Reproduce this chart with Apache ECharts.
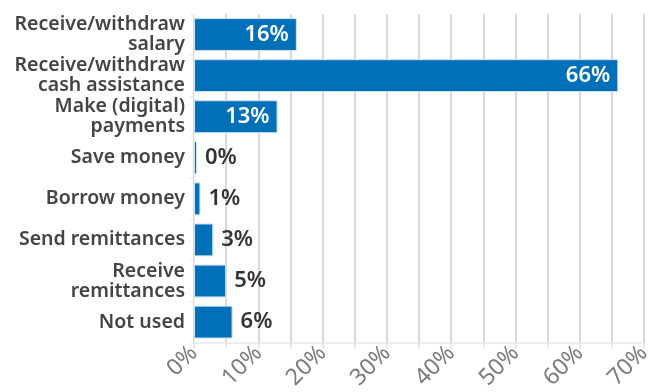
<!DOCTYPE html>
<html>
<head>
<meta charset="utf-8">
<script src="https://cdn.jsdelivr.net/npm/echarts@6/dist/echarts.min.js"></script>
<style>
  html, body { margin: 0; padding: 0; background: #fff; }
  #chart { width: 657px; height: 392px; }
</style>
</head>
<body>
<div id="chart"></div>
<script>
// Uses of the account, top to bottom
const categories = [
  'Receive/withdraw\nsalary',
  'Receive/withdraw\ncash assistance',
  'Make (digital)\npayments',
  'Save money',
  'Borrow money',
  'Send remittances',
  'Receive\nremittances',
  'Not used'
];
// Share of respondents, in percent
const shares = [16, 66, 13, 0, 1, 3, 5, 6];
// Value axis range and step
const axisMax = 70;
const axisStep = 5;
const labelStep = 10;

const barColor = '#0070b8';
const fontFamily = '"Noto Sans", "Open Sans", sans-serif';

// Wide bars carry their label inside in white; short ones get it outside
const seriesData = shares.map(v => ({
  value: v,
  label: v >= 10
    ? { position: 'insideRight', distance: 8, color: '#ffffff' }
    : { position: 'right', distance: 8, color: '#333333' }
}));

const chart = echarts.init(document.getElementById('chart'), null, { renderer: 'canvas' });
chart.setOption({
  animation: false,
  grid: { left: 194, right: 13, top: 14, bottom: 49, containLabel: false },
  xAxis: {
    type: 'value',
    min: 0,
    max: axisMax,
    interval: axisStep,
    axisLine: { show: true, lineStyle: { color: '#e8e8e8', width: 1.5 } },
    axisTick: { show: true, length: 6, lineStyle: { color: '#e0e0e0', width: 1.5 } },
    splitLine: { show: true, lineStyle: { color: '#cccccc', width: 1.5 } },
    axisLabel: {
      rotate: 45,
      margin: 7,
      color: '#7a7a7a',
      fontFamily: fontFamily,
      fontSize: 23,
      formatter: v => (v % labelStep === 0 ? v + '%' : '')
    }
  },
  yAxis: {
    type: 'category',
    inverse: true,
    data: categories,
    axisLine: { show: true, lineStyle: { color: '#eeeeee', width: 1 } },
    axisTick: { show: true, length: 4, lineStyle: { color: '#e6e6e6' } },
    axisLabel: {
      margin: 9,
      color: '#444444',
      fontFamily: fontFamily,
      fontWeight: 600,
      fontSize: 19.5,
      lineHeight: 20
    }
  },
  series: [{
    type: 'bar',
    data: seriesData,
    barCategoryGap: '20%',
    barMinHeight: 3,
    itemStyle: { color: barColor, borderColor: '#cfe3f2', borderWidth: 1 },
    label: {
      show: true,
      fontFamily: fontFamily,
      fontWeight: 600,
      fontSize: 22,
      formatter: p => p.value + '%'
    }
  }]
});
</script>
</body>
</html>
